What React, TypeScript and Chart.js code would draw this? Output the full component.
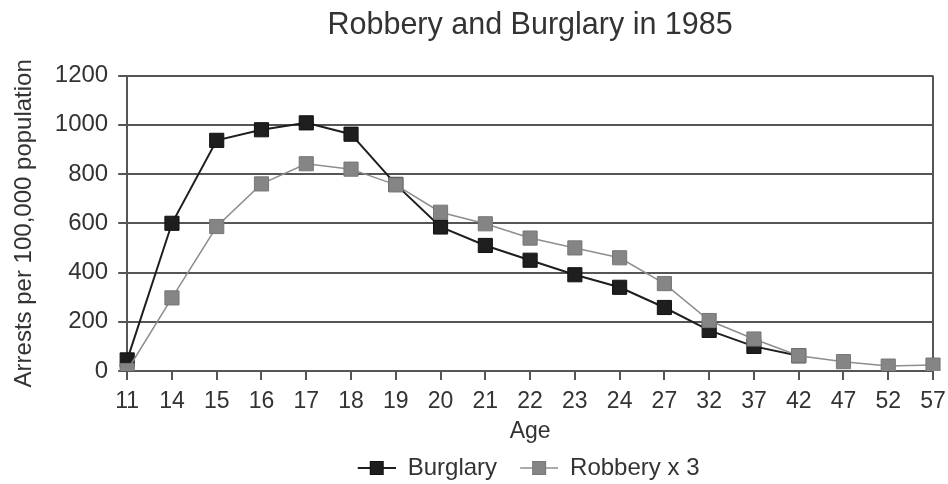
import React, { useEffect, useRef } from "react";
import { Chart, registerables } from "chart.js";

Chart.register(...registerables);

const ages = ["11", "14", "15", "16", "17", "18", "19", "20", "21", "22", "23", "24", "27", "32", "37", "42", "47", "52", "57"];
const burglary: (number | null)[] = [45, 600, 937, 980, 1008, 962, 758, 585, 510, 450, 391, 340, 258, 165, 100, 62, null, null, null];
const robberyX3: number[] = [2, 297, 587, 760, 842, 820, 756, 645, 598, 540, 500, 460, 355, 205, 130, 62, 38, 20, 24];
const yTicks = [0, 200, 400, 600, 800, 1000, 1200];

const FONT = "'Liberation Sans', Arial, Helvetica, sans-serif";
const TEXT = "#333333";
const GRID = "#555555";
const BLACK = "#1e1e1e";
const GRAY_FILL = "#858585";
const GRAY_LINE = "#8e8e8e";
const ICON_MARGIN = 13;
const ICON_W = 38;

function legendIcon(line: string, fill: string, border: string, lw: number): HTMLCanvasElement {
  const c = document.createElement("canvas");
  c.width = ICON_W + ICON_MARGIN;
  c.height = 16;
  const g = c.getContext("2d")!;
  const m = ICON_MARGIN;
  g.strokeStyle = line;
  g.lineWidth = lw;
  g.beginPath();
  g.moveTo(m, 8);
  g.lineTo(m + ICON_W, 8);
  g.stroke();
  g.fillStyle = fill;
  g.fillRect(m + 12, 1, 14, 14);
  g.strokeStyle = border;
  g.lineWidth = 1;
  g.strokeRect(m + 12.5, 1.5, 13, 13);
  return c;
}

const centerOnPlot = {
  id: "centerOnPlot",
  afterLayout(chart: any) {
    const ca = chart.chartArea;
    const cx = (ca.left + ca.right) / 2;
    const half = Math.min(cx, chart.width - cx) - 10;
    const boxes: [any, number][] = [
      [chart.titleBlock, 0],
      [chart.legend, -8],
    ];
    for (const [box, shift] of boxes) {
      if (!box) continue;
      box.left = cx - half + shift;
      box.right = cx + half + shift;
      box.width = half * 2;
    }
  },
};

export default function App() {
  const ref = useRef<HTMLCanvasElement | null>(null);
  useEffect(() => {
    if (!ref.current) return;
    const iconB = legendIcon(BLACK, BLACK, "#111", 2);
    const iconR = legendIcon(GRAY_LINE, GRAY_FILL, "#777", 1.5);
    const last = ages.length - 1;
    const chart = new Chart(ref.current, {
      type: "line",
      data: {
        labels: ages,
        datasets: [
          {
            label: "Burglary",
            data: burglary,
            borderColor: BLACK,
            backgroundColor: BLACK,
            pointBackgroundColor: BLACK,
            pointBorderColor: "#111",
            borderWidth: 2,
            pointStyle: "rect",
            pointRadius: 10,
            pointBorderWidth: 1,
            order: 1,
            spanGaps: false,
          },
          {
            label: "Robbery x 3",
            data: robberyX3,
            borderColor: GRAY_LINE,
            backgroundColor: GRAY_FILL,
            pointBackgroundColor: GRAY_FILL,
            pointBorderColor: "#777",
            borderWidth: 1.5,
            pointStyle: "rect",
            pointRadius: 10,
            pointBorderWidth: 1,
            order: 0,
          },
        ],
      },
      plugins: [centerOnPlot],
      options: {
        animation: false,
        responsive: true,
        maintainAspectRatio: false,
        layout: { padding: { left: 4, right: 0, top: 0, bottom: -6 } },
        plugins: {
          title: {
            display: true,
            text: "Robbery and Burglary in 1985",
            color: TEXT,
            font: { family: FONT, size: 30.5, weight: "normal" },
            padding: { top: 7, bottom: 32 },
          },
          legend: {
            position: "bottom",
            labels: {
              color: TEXT,
              font: { family: FONT, size: 24 },
              usePointStyle: true,
              pointStyleWidth: ICON_W + ICON_MARGIN,
              padding: 10,
              generateLabels: () => [
                { text: "Burglary", pointStyle: iconB, fillStyle: BLACK, strokeStyle: BLACK, lineWidth: 0, hidden: false, datasetIndex: 0, fontColor: TEXT },
                { text: "Robbery x 3", pointStyle: iconR, fillStyle: GRAY_FILL, strokeStyle: GRAY_FILL, lineWidth: 0, hidden: false, datasetIndex: 1, fontColor: TEXT },
              ] as any,
            },
          },
          tooltip: { enabled: false },
        },
        scales: {
          x: {
            offset: false,
            afterFit: (scale: any) => {
              scale.paddingRight = 15;
              scale.paddingLeft = 0;
            },
            grid: {
              drawOnChartArea: true,
              color: (ctx: any) => (ctx.index === last ? GRID : "rgba(0,0,0,0)"),
              lineWidth: 2,
              tickLength: 9,
              tickColor: GRID,
              tickWidth: 2,
            },
            border: { display: true, color: GRID, width: 2 },
            ticks: {
              color: TEXT,
              font: { family: FONT, size: 23, lineHeight: 1 },
              padding: 10,
              maxRotation: 0,
              autoSkip: false,
            },
            title: {
              display: true,
              text: "Age",
              color: TEXT,
              font: { family: FONT, size: 23, lineHeight: 1 },
              padding: { top: -3, bottom: 3 },
            },
          },
          y: {
            min: 0,
            max: 1200,
            afterBuildTicks: (axis: any) => {
              axis.ticks = yTicks.map((v) => ({ value: v }));
            },
            grid: {
              color: GRID,
              lineWidth: 2,
              tickLength: 9,
              tickColor: GRID,
            },
            border: { display: true, color: GRID, width: 2 },
            ticks: {
              color: TEXT,
              font: { family: FONT, size: 24 },
              padding: 10,
              callback: (v: any) => String(v),
            },
            title: {
              display: true,
              text: "Arrests per 100,000 population",
              color: TEXT,
              font: { family: FONT, size: 24 },
              padding: { top: 6, bottom: 6 },
            },
          },
        },
      },
    });
    return () => chart.destroy();
  }, []);
  return (
    <div style={{ position: "fixed", left: 0, top: 0, width: 948, height: 484, background: "#fff" }}>
      <canvas ref={ref} />
    </div>
  );
}
